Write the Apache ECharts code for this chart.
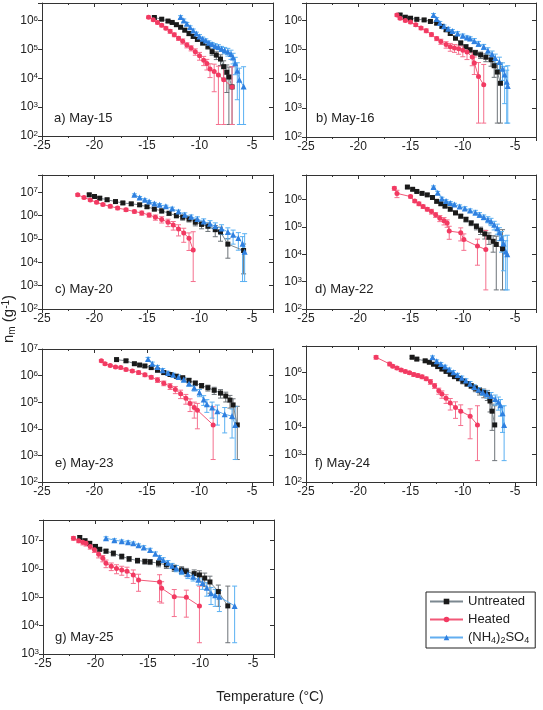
<!DOCTYPE html>
<html><head><meta charset="utf-8">
<script src="https://cdn.jsdelivr.net/npm/echarts@6/dist/echarts.min.js"></script>
<style>html,body{margin:0;padding:0;background:#fff}#c{width:543px;height:710px}</style>
</head><body><div id="c"></div>
<script>
// ---------- DATA (temperature °C, n_m g^-1, relative error) ----------
const seriesNames = ['Untreated', 'Heated', '(NH4)2SO4'];
const panelLabels = ['a) May-15', 'b) May-16', 'c) May-20', 'd) May-22', 'e) May-23', 'f) May-24', 'g) May-25'];
const panelYMin = [1e2, 1e2, 1e2, 1e2, 1e2, 1e2, 1e3];
const panelYMax = [4e6, 4e6, 5.5e7, 8e6, 1e7, 9e6, 5.4e7];
const panelFloor = [250, 300, 1500, 500, 700, 600, 2500];
const xTicks = [-25, -20, -15, -10, -5];

// a) May-15
const a_unt_T = [-14.3,-13.6,-13.0,-12.6,-12.2,-11.8,-11.4,-11.0,-10.6,-10.2,-9.7,-9.2,-8.8,-8.4,-8.0,-7.7,-7.4,-7.2,-6.9];
const a_unt_N = [1.26e6,1.1e6,9.5e5,8.5e5,7.1e5,5.8e5,4.6e5,3.5e5,2.8e5,2.2e5,1.7e5,1.26e5,8.3e4,6.3e4,4.6e4,2.5e4,1.6e4,1.1e4,5e3];
const a_unt_E = [0.1,0.1,0.1,0.1,0.12,0.12,0.12,0.15,0.15,0.15,0.2,0.2,0.25,0.3,0.4,0.6,0.8,1.2,4];
const a_hea_T = [-14.85,-14.4,-14.0,-13.6,-13.2,-12.8,-12.4,-12.0,-11.6,-11.2,-10.8,-10.4,-10.0,-9.6,-9.3,-9.0,-8.6,-8.2,-7.7,-6.9];
const a_hea_N = [1.29e6,1.05e6,8.5e5,6.8e5,5.4e5,4.2e5,3.2e5,2.4e5,1.9e5,1.4e5,1.1e5,8.3e4,6e4,4.2e4,3.2e4,2.1e4,1.7e4,1.3e4,8.9e3,5e3];
const a_hea_E = [0.1,0.1,0.12,0.12,0.12,0.15,0.15,0.15,0.2,0.2,0.2,0.25,0.3,0.35,0.4,0.5,0.8,1.0,1.5,4];
const a_amm_T = [-11.8,-11.5,-11.2,-10.9,-10.6,-10.3,-10.0,-9.7,-9.4,-9.1,-8.8,-8.5,-8.2,-7.9,-7.6,-7.3,-7.0,-6.8,-6.6,-6.4,-6.2,-5.8];
const a_amm_N = [1.3e6,1e6,7.6e5,5.8e5,4.5e5,3.5e5,2.8e5,2.3e5,2e5,1.7e5,1.5e5,1.3e5,1.2e5,1.05e5,9.3e4,8.3e4,6.9e4,5.2e4,3.3e4,1.8e4,8.9e3,5.2e3];
const a_amm_E = [0.12,0.12,0.12,0.12,0.12,0.12,0.15,0.15,0.15,0.15,0.15,0.2,0.2,0.2,0.25,0.3,0.35,0.4,0.6,0.9,1.5,3.8];

// b) May-16
const b_unt_T = [-16.0,-15.5,-15.0,-14.4,-13.7,-13.1,-12.5,-12.0,-11.6,-11.2,-10.7,-10.2,-9.7,-9.3,-8.8,-8.3,-7.8,-7.3,-7.0,-6.7,-6.4];
const b_unt_N = [1.55e6,1.3e6,1.2e6,1.1e6,1.05e6,9.3e5,8.1e5,6.3e5,4.8e5,3.6e5,2.5e5,1.7e5,1.26e5,9.8e4,7.9e4,6.6e4,5.5e4,4.5e4,2.8e4,1.7e4,7e3];
const b_unt_E = [0.1,0.1,0.1,0.1,0.1,0.1,0.1,0.12,0.12,0.12,0.15,0.15,0.15,0.2,0.2,0.25,0.3,0.4,0.6,1.0,4];
const b_hea_T = [-16.3,-16.0,-15.5,-15.0,-14.5,-14.0,-13.5,-13.0,-12.5,-12.1,-11.6,-11.2,-10.8,-10.4,-10.0,-9.6,-9.1,-8.9,-8.5,-8.0];
const b_hea_N = [1.55e6,1.2e6,1e6,8.9e5,7.1e5,5.5e5,4.5e5,3.3e5,2.4e5,1.9e5,1.5e5,1.26e5,1.15e5,1.07e5,9.5e4,8.3e4,5.6e4,3.5e4,1.2e4,6.2e3];
const b_hea_E = [0.1,0.1,0.1,0.12,0.12,0.12,0.15,0.15,0.15,0.2,0.25,0.3,0.3,0.35,0.4,0.45,0.5,0.6,2,4];
const b_amm_T = [-12.8,-12.5,-12.2,-11.8,-11.4,-11.0,-10.5,-10.0,-9.6,-9.3,-8.9,-8.5,-8.0,-7.6,-7.2,-6.9,-6.5,-6.2,-6.0,-5.8,-5.7];
const b_amm_N = [1.55e6,1.12e6,8.3e5,6.3e5,5.2e5,4.4e5,3.6e5,3e5,2.6e5,2.4e5,2e5,1.6e5,1.26e5,9.3e4,6.9e4,5.2e4,3.8e4,2.2e4,1.4e4,7.9e3,5.6e3];
const b_amm_E = [0.12,0.12,0.12,0.12,0.12,0.12,0.15,0.15,0.15,0.15,0.2,0.2,0.2,0.25,0.3,0.35,0.45,0.6,0.9,1.5,4];

// c) May-20
const c_unt_T = [-20.5,-20.0,-19.5,-18.8,-18.0,-17.3,-16.5,-15.7,-15.0,-14.3,-13.6,-12.9,-12.2,-11.6,-11.0,-10.4,-9.8,-9.2,-8.5,-8.0,-7.3,-5.8];
const c_unt_N = [7.8e6,6.6e6,5.6e6,4.8e6,4e6,3.5e6,3.2e6,2.9e6,2.4e6,1.9e6,1.6e6,1.26e6,1e6,8.5e5,7.1e5,5.2e5,4.2e5,3.5e5,2.5e5,2e5,6e4,3.2e4];
const c_unt_E = [0.15,0.15,0.15,0.15,0.15,0.15,0.15,0.15,0.15,0.15,0.2,0.2,0.2,0.25,0.25,0.3,0.35,0.4,0.5,0.6,0.75,0.9];
const c_hea_T = [-21.6,-21.0,-20.4,-19.8,-19.2,-18.5,-17.8,-17.0,-16.2,-15.5,-14.8,-14.2,-13.6,-13.0,-12.5,-12.0,-11.5,-11.0,-10.6];
const c_hea_N = [7.8e6,6e6,4.7e6,3.7e6,3e6,2.5e6,2.1e6,1.8e6,1.5e6,1.3e6,1.07e6,8.5e5,6.9e5,5.2e5,4e5,2.7e5,1.8e5,1.07e5,3.4e4];
const c_hea_E = [0.12,0.12,0.12,0.12,0.12,0.15,0.15,0.15,0.15,0.2,0.2,0.25,0.3,0.35,0.4,0.5,0.6,0.7,5];
const c_amm_T = [-16.2,-15.7,-15.2,-14.8,-14.3,-13.8,-13.2,-12.6,-12.0,-11.4,-10.8,-10.2,-9.6,-9.0,-8.5,-7.9,-7.3,-6.8,-6.3,-5.9,-5.7];
const c_amm_N = [7.8e6,6e6,4.8e6,4e6,3.3e6,2.9e6,2.5e6,2e6,1.5e6,1.1e6,8.9e5,7.1e5,5.6e5,4.5e5,3.5e5,2.8e5,2e5,1.5e5,1.1e5,6.3e4,2.8e4];
const c_amm_E = [0.1,0.1,0.1,0.1,0.12,0.12,0.12,0.15,0.15,0.2,0.2,0.25,0.3,0.35,0.4,0.45,0.5,0.6,0.7,1.0,5];

// d) May-22
const d_unt_T = [-15.3,-14.8,-14.4,-13.9,-13.4,-12.9,-12.5,-12.1,-11.7,-11.2,-10.7,-10.2,-9.7,-9.2,-8.7,-8.3,-7.9,-7.5,-7.1,-6.8,-6.2];
const d_unt_N = [2.9e6,2.4e6,2e6,1.7e6,1.5e6,1.2e6,8.7e5,7.1e5,5.8e5,4.5e5,3.3e5,2.5e5,1.9e5,1.4e5,1.05e5,7.6e4,5.6e4,4.2e4,3e4,2.3e4,1.6e4];
const d_unt_E = [0.1,0.1,0.1,0.1,0.1,0.1,0.12,0.12,0.12,0.15,0.15,0.15,0.2,0.2,0.25,0.3,0.35,0.45,0.6,1.0,4];
const d_hea_T = [-16.55,-16.3,-15.0,-14.6,-14.2,-13.8,-13.4,-13.0,-12.6,-12.2,-11.8,-11.5,-11.3,-10.2,-9.9,-8.6,-7.8];
const d_hea_N = [2.6e6,1.7e6,1.3e6,8.9e5,7.1e5,5.6e5,4.5e5,3.7e5,2.8e5,2.1e5,1.7e5,1.4e5,7.1e4,6.2e4,3.5e4,2e4,1.5e4];
const d_hea_E = [0.15,0.3,0.12,0.12,0.15,0.15,0.15,0.2,0.2,0.25,0.3,0.3,0.5,0.5,0.6,0.8,4];
const d_amm_T = [-12.8,-12.4,-12.0,-11.6,-11.2,-10.8,-10.3,-9.8,-9.3,-8.8,-8.4,-8.0,-7.6,-7.3,-7.0,-6.7,-6.5,-6.3,-6.1,-5.9,-5.75];
const d_amm_N = [2.9e6,1.8e6,1.1e6,8.9e5,7.6e5,6.6e5,5.6e5,4.8e5,4e5,3.4e5,2.8e5,2.3e5,1.9e5,1.6e5,1.2e5,9.1e4,6.3e4,4e4,2.5e4,1.26e4,1e4];
const d_amm_E = [0.1,0.12,0.12,0.12,0.12,0.12,0.15,0.15,0.15,0.2,0.2,0.2,0.25,0.3,0.35,0.4,0.5,0.7,0.9,1.5,4];

// e) May-23
const e_unt_T = [-17.9,-17.0,-16.2,-15.7,-15.2,-14.6,-14.0,-13.4,-12.8,-12.2,-11.6,-11.0,-10.4,-9.8,-9.2,-8.6,-8.0,-7.5,-7.1,-6.8,-6.4];
const e_unt_N = [4e6,3.6e6,2.8e6,2.5e6,2.3e6,2e6,1.6e6,1.3e6,1.1e6,9.5e5,8.3e5,6.6e5,5.2e5,4.2e5,3.5e5,2.8e5,2.2e5,1.7e5,1.2e5,7.9e4,1.4e4];
const e_unt_E = [0.12,0.12,0.12,0.12,0.12,0.12,0.15,0.15,0.15,0.15,0.15,0.2,0.2,0.2,0.25,0.3,0.35,0.4,0.5,0.7,4];
const e_hea_T = [-19.35,-19.0,-18.5,-18.0,-17.5,-17.0,-16.4,-15.8,-15.2,-14.6,-14.0,-13.4,-12.8,-12.3,-11.8,-11.3,-10.9,-10.5,-10.2,-8.7];
const e_hea_N = [3.6e6,2.8e6,2.4e6,2.1e6,2e6,1.7e6,1.5e6,1.3e6,1.07e6,8.7e5,6.9e5,5.2e5,4e5,3e5,2.1e5,1.4e5,8.9e4,6.3e4,5e4,1.4e4];
const e_hea_E = [0.1,0.1,0.1,0.1,0.12,0.12,0.12,0.15,0.15,0.15,0.2,0.2,0.25,0.3,0.35,0.4,0.5,0.6,0.8,3.8];
const e_amm_T = [-14.9,-14.5,-14.0,-13.5,-13.0,-12.5,-12.0,-11.5,-11.0,-10.5,-10.0,-9.6,-9.3,-8.8,-8.3,-7.6,-6.9,-6.6];
const e_amm_N = [4.2e6,2.8e6,2.1e6,1.6e6,1.26e6,1.07e6,8.9e5,7.1e5,5e5,3.5e5,2.3e5,1.26e5,8.3e4,6.3e4,4.6e4,3.5e4,3e4,1.4e4];
const e_amm_E = [0.15,0.15,0.15,0.15,0.15,0.15,0.2,0.2,0.2,0.25,0.3,0.4,0.5,0.6,0.7,0.8,0.85,4];

// f) May-24
const f_unt_T = [-14.85,-14.4,-13.6,-13.2,-12.8,-12.4,-12.0,-11.6,-11.2,-10.8,-10.4,-10.0,-9.6,-9.2,-8.8,-8.4,-8.0,-7.65,-7.4,-7.2,-6.95];
const f_unt_N = [3.5e6,3e6,2.6e6,2.3e6,1.95e6,1.6e6,1.3e6,1.07e6,8.5e5,6.9e5,5.8e5,4.7e5,3.8e5,3.2e5,2.6e5,2.1e5,1.8e5,1.55e5,8.9e4,3.8e4,1.2e4];
const f_unt_E = [0.1,0.1,0.1,0.1,0.1,0.12,0.12,0.12,0.15,0.15,0.15,0.2,0.2,0.2,0.25,0.3,0.35,0.4,0.6,0.8,4];
const f_hea_T = [-18.3,-17.0,-16.7,-16.3,-15.9,-15.5,-15.1,-14.7,-14.3,-13.9,-13.5,-13.1,-12.7,-12.3,-12.0,-11.6,-11.2,-10.7,-10.2,-9.3,-8.6];
const f_hea_N = [3.5e6,2e6,1.66e6,1.41e6,1.2e6,1.07e6,9.5e5,8.3e5,7.6e5,6.8e5,5.8e5,4.5e5,3.2e5,2.1e5,1.6e5,1.12e5,7.6e4,5.2e4,3.8e4,2.5e4,1.2e4];
const f_hea_E = [0.15,0.15,0.12,0.12,0.12,0.12,0.12,0.15,0.15,0.15,0.15,0.2,0.2,0.25,0.3,0.35,0.45,0.6,0.7,0.85,4];
const f_amm_T = [-12.9,-12.5,-12.1,-11.7,-11.3,-10.9,-10.5,-10.1,-9.7,-9.3,-8.9,-8.5,-8.1,-7.7,-7.3,-6.9,-6.6,-6.4,-6.2,-6.05];
const f_amm_N = [3.5e6,2.5e6,2e6,1.6e6,1.26e6,1e6,7.9e5,6.3e5,5e5,3.8e5,2.9e5,2.3e5,1.9e5,1.6e5,1.35e5,1.05e5,8.3e4,6.3e4,3.2e4,1.2e4];
const f_amm_E = [0.12,0.12,0.12,0.12,0.12,0.15,0.15,0.15,0.15,0.2,0.2,0.2,0.25,0.3,0.35,0.4,0.5,0.6,0.8,4];

// g) May-25
const g_unt_T = [-21.5,-21.0,-20.55,-20.0,-19.6,-19.0,-18.3,-17.5,-16.8,-16.0,-15.3,-14.8,-14.0,-13.25,-12.5,-11.8,-11.35,-10.6,-10.1,-9.6,-9.1,-8.3,-7.4];
const g_unt_N = [1.3e7,1e7,8.1e6,6.3e6,5e6,4.3e6,3.6e6,2.8e6,2.3e6,2e6,1.86e6,1.8e6,1.6e6,1.4e6,1.1e6,9.3e5,8.1e5,6.9e5,6.2e5,4.8e5,3.5e5,1.6e5,5e4];
const g_unt_E = [0.15,0.15,0.15,0.15,0.15,0.15,0.2,0.2,0.2,0.2,0.2,0.2,0.25,0.25,0.25,0.3,0.3,0.35,0.4,0.5,0.6,0.7,4];
const g_hea_T = [-22.1,-21.6,-21.2,-20.9,-20.5,-20.1,-19.7,-19.3,-19.0,-18.5,-18.0,-17.5,-17.0,-16.4,-15.9,-13.9,-13.7,-12.5,-11.35,-10.1];
const g_hea_N = [1.23e7,1e7,8.9e6,8.1e6,6.3e6,4.8e6,3.3e6,2.4e6,1.6e6,1.26e6,1.05e6,9.3e5,8.3e5,6.2e5,4.1e5,3.5e5,2.1e5,1.05e5,1e5,5e4];
const g_hea_E = [0.15,0.15,0.2,0.2,0.2,0.2,0.25,0.25,0.3,0.3,0.35,0.35,0.4,0.5,0.6,0.8,0.7,0.8,0.8,4];
const g_amm_T = [-19.0,-18.2,-17.5,-16.9,-16.4,-15.9,-15.4,-14.8,-14.3,-13.9,-13.55,-13.1,-12.7,-12.3,-11.8,-11.2,-10.7,-10.2,-9.8,-9.4,-9.0,-8.6,-8.2,-6.75];
const g_amm_N = [1.23e7,1.05e7,9.5e6,8.9e6,8.1e6,6.9e6,5.8e6,4.7e6,3.5e6,2.6e6,2.1e6,1.66e6,1.32e6,1.07e6,8.5e5,6.6e5,5.4e5,4.2e5,3.2e5,2.2e5,1.4e5,1.2e5,1.05e5,5e4];
const g_amm_E = [0.12,0.12,0.12,0.12,0.12,0.12,0.15,0.15,0.15,0.15,0.2,0.2,0.2,0.25,0.25,0.3,0.3,0.35,0.4,0.5,0.6,0.6,0.7,4];

const panelData = [
  [[a_unt_T,a_unt_N,a_unt_E],[a_hea_T,a_hea_N,a_hea_E],[a_amm_T,a_amm_N,a_amm_E]],
  [[b_unt_T,b_unt_N,b_unt_E],[b_hea_T,b_hea_N,b_hea_E],[b_amm_T,b_amm_N,b_amm_E]],
  [[c_unt_T,c_unt_N,c_unt_E],[c_hea_T,c_hea_N,c_hea_E],[c_amm_T,c_amm_N,c_amm_E]],
  [[d_unt_T,d_unt_N,d_unt_E],[d_hea_T,d_hea_N,d_hea_E],[d_amm_T,d_amm_N,d_amm_E]],
  [[e_unt_T,e_unt_N,e_unt_E],[e_hea_T,e_hea_N,e_hea_E],[e_amm_T,e_amm_N,e_amm_E]],
  [[f_unt_T,f_unt_N,f_unt_E],[f_hea_T,f_hea_N,f_hea_E],[f_amm_T,f_amm_N,f_amm_E]],
  [[g_unt_T,g_unt_N,g_unt_E],[g_hea_T,g_hea_N,g_hea_E],[g_amm_T,g_amm_N,g_amm_E]]
];

// ---------- STYLE / LAYOUT ----------
const FONT = '"Liberation Sans", Arial, sans-serif';
const gridBoxes = [
  {left: 42, top: 3, width: 231, height: 133},
  {left: 306, top: 3, width: 230, height: 134},
  {left: 42, top: 175, width: 231, height: 134},
  {left: 306, top: 175, width: 230, height: 134},
  {left: 42, top: 349, width: 231, height: 133},
  {left: 306, top: 346, width: 230, height: 136},
  {left: 43, top: 520, width: 231, height: 134}
];
const labelPos = [[54,118],[316,118],[55,289],[315,289],[55,463],[315,463],[55,637]];
const markerColor = ['#1a1a1a', '#f23a62', '#2f80e0'];
const lineColor = ['#7c8890', '#f25878', '#62aef0'];
const errColor = ['#6d7378', '#f5708e', '#5ab0f2'];
const symbols = ['rect', 'circle', 'triangle'];
const symSizes = [5, 5, 6];

const supRich = {s: {fontSize: 8, fontFamily: FONT, color: '#222', verticalAlign: 'top', lineHeight: 8, padding: [0,0,6,0]}};
function logFmt(v) {
  const e = Math.log10(v), r = Math.round(e);
  return Math.abs(e - r) < 1e-6 ? '10{s|' + r + '}' : '';
}

const grids = [], xAxes = [], yAxes = [], series = [], graphics = [];
gridBoxes.forEach((g, i) => {
  grids.push(Object.assign({show: false}, g));
  const axLine = {show: true, lineStyle: {color: '#333', width: 1}};
  xAxes.push({type: 'value', gridIndex: i, position: 'bottom', min: -25, max: -3, interval: 5,
    axisLine: axLine, splitLine: {show: false},
    axisTick: {show: true, inside: false, length: 4, lineStyle: {color: '#333'}},
    minorTick: {show: true, splitNumber: 2, length: 2, lineStyle: {color: '#333'}},
    axisLabel: {color: '#222', fontSize: 12, fontFamily: FONT, margin: 4,
      formatter: v => xTicks.includes(v) ? String(v) : ''}});
  xAxes.push({type: 'value', gridIndex: i, position: 'top', min: -25, max: -3, interval: 5,
    axisLine: axLine, splitLine: {show: false},
    axisTick: {show: true, inside: true, length: 4, lineStyle: {color: '#333'}},
    minorTick: {show: true, splitNumber: 2, length: 2, lineStyle: {color: '#333'}},
    axisLabel: {show: false}});
  yAxes.push({type: 'log', logBase: 10, gridIndex: i, position: 'left', min: panelYMin[i], max: panelYMax[i],
    axisLine: axLine, splitLine: {show: false},
    axisTick: {show: true, inside: false, length: 4, lineStyle: {color: '#333'}},
    axisLabel: {color: '#222', fontSize: 12, fontFamily: FONT, margin: 4, formatter: logFmt, rich: supRich}});
  yAxes.push({type: 'log', logBase: 10, gridIndex: i, position: 'right', min: panelYMin[i], max: panelYMax[i],
    axisLine: axLine, splitLine: {show: false},
    axisTick: {show: true, inside: true, length: 4, lineStyle: {color: '#333'}},
    axisLabel: {show: false}});

  panelData[i].forEach((sd, k) => {
    const [T, N, E] = sd;
    const floor = panelFloor[i];
    const errData = T.map((t, j) => [t, E[j] < 1 ? N[j] * (1 - E[j]) : floor, N[j] * (1 + E[j])]);
    const col = errColor[k];
    series.push({
      type: 'custom', xAxisIndex: 2 * i, yAxisIndex: 2 * i, z: 1, silent: true,
      data: errData, encode: {x: 0, y: [1, 2]}, clip: true,
      renderItem: (params, api) => {
        const lo = api.coord([api.value(0), api.value(1)]);
        const hi = api.coord([api.value(0), api.value(2)]);
        const w = 2.5, st = {stroke: col, lineWidth: 1};
        return {type: 'group', children: [
          {type: 'line', shape: {x1: lo[0], y1: hi[1], x2: lo[0], y2: lo[1]}, style: st},
          {type: 'line', shape: {x1: lo[0] - w, y1: hi[1], x2: lo[0] + w, y2: hi[1]}, style: st},
          {type: 'line', shape: {x1: lo[0] - w, y1: lo[1], x2: lo[0] + w, y2: lo[1]}, style: st}
        ]};
      }
    });
    series.push({
      type: 'line', name: seriesNames[k], xAxisIndex: 2 * i, yAxisIndex: 2 * i, z: 3,
      data: T.map((t, j) => [t, N[j]]),
      symbol: symbols[k], symbolSize: symSizes[k], showSymbol: true,
      itemStyle: {color: markerColor[k]},
      lineStyle: {color: lineColor[k], width: 1},
      animation: false
    });
  });

  graphics.push({type: 'text', x: labelPos[i][0], y: labelPos[i][1],
    style: {text: panelLabels[i], font: '13px ' + FONT, fill: '#222', verticalAlign: 'middle'}});
});

graphics.push({type: 'text', x: 270, y: 697,
  style: {text: 'Temperature (°C)', font: '14px ' + FONT, fill: '#222', align: 'center', verticalAlign: 'middle'}});
graphics.push({type: 'text', x: 9, y: 319, rotation: Math.PI / 2,
  style: {text: 'n{b|m} (g{s|-1})', font: '15px ' + FONT, fill: '#222', align: 'center', verticalAlign: 'middle',
    rich: {b: {fontSize: 10, fontFamily: FONT, fill: '#222', verticalAlign: 'bottom', padding: [6,0,0,0]},
           s: {fontSize: 10, fontFamily: FONT, fill: '#222', verticalAlign: 'top', padding: [0,0,6,0]}}}});

const chart = echarts.init(document.getElementById('c'), null, {renderer: 'canvas'});
chart.setOption({
  animation: false,
  backgroundColor: '#fff',
  grid: grids, xAxis: xAxes, yAxis: yAxes, series: series, graphic: graphics,
  legend: {
    data: seriesNames, orient: 'vertical', left: 426, top: 592,
    itemWidth: 33, itemHeight: 7, itemGap: 5,
    padding: [3, 6, 3, 3], borderColor: '#222', borderWidth: 1,
    selectedMode: false,
    textStyle: {fontSize: 13, fontFamily: FONT, color: '#222',
      rich: {b: {fontSize: 9, fontFamily: FONT, color: '#222', verticalAlign: 'bottom', padding: [6,0,0,0]}}},
    formatter: n => n === '(NH4)2SO4' ? '(NH{b|4}){b|2}SO{b|4}' : n
  }
});
</script>
</body></html>
